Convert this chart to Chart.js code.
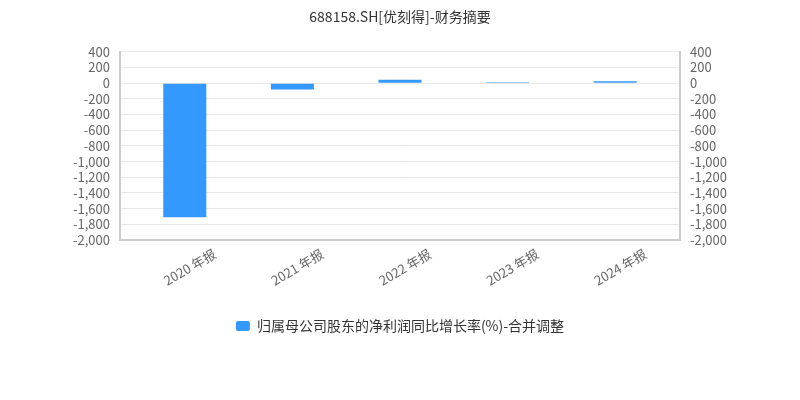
<!DOCTYPE html>
<html>
<head>
<meta charset="utf-8">
<script src="https://cdn.jsdelivr.net/npm/chart.js@4/dist/chart.umd.min.js"></script>
<style>
  html, body { margin: 0; padding: 0; background: #fff; }
</style>
</head>
<body>
<canvas id="finChart" width="800" height="400"></canvas>
<script>
'use strict';

// Chart title
const chartTitle = '688158.SH[优刻得]-财务摘要';
// Report periods on the x axis
const periods = ['2020 年报', '2021 年报', '2022 年报', '2023 年报', '2024 年报'];
// Net profit attributable to parent, YoY growth (%)
const seriesName = '归属母公司股东的净利润同比增长率(%)-合并调整';
const growthValues = [-1710, -82, 42, 12, 25];
// Value axis range
const axisMin = -2000;
const axisMax = 400;
const axisStep = 200;

const fontFamily = '"Microsoft YaHei", "Noto Sans CJK SC", sans-serif';

// Format ticks like 1,000
function formatTick(value) {
  return Number(value).toLocaleString('en-US');
}

// Inset the categories a bit inside the frame
const innerPad = {
  id: 'innerPad',
  afterLayout: function (chart) {
    const x = chart.scales.x;
    x._startPixel += 11;
    x._endPixel -= 11;
    x._length = x._endPixel - x._startPixel;
  }
};

const ctx = document.getElementById('finChart');

new Chart(ctx, {
  type: 'bar',
  data: {
    labels: periods,
    datasets: [{
      label: seriesName,
      data: growthValues,
      backgroundColor: '#3399ff',
      borderWidth: 0,
      barPercentage: 0.4,
      categoryPercentage: 1,
      yAxisID: 'y'
    }]
  },
  options: {
    responsive: false,
    animation: false,
    layout: {
      padding: { left: 0, right: 0, top: 0, bottom: 57 }
    },
    plugins: {
      title: {
        display: true,
        text: chartTitle,
        color: '#333',
        font: { family: fontFamily, size: 14, weight: 'normal' },
        padding: { top: 8, bottom: 27 }
      },
      legend: {
        position: 'bottom',
        labels: {
          color: '#333',
          font: { family: fontFamily, size: 14 },
          boxWidth: 14,
          boxHeight: 10,
          useBorderRadius: true,
          borderRadius: 2,
          padding: 10
        }
      },
      tooltip: { enabled: false }
    },
    scales: {
      x: {
        grid: { display: false, drawTicks: false },
        border: { color: '#ccc', width: 2 },
        ticks: {
          color: '#666',
          font: { family: fontFamily, size: 13 },
          minRotation: 30,
          maxRotation: 30,
          labelOffset: 30,
          padding: 6
        },
        afterFit: function (scale) {
          scale.height = 69;
        }
      },
      y: {
        position: 'left',
        min: axisMin,
        max: axisMax,
        grid: { color: '#e8e8e8', drawTicks: false },
        border: { color: '#ccc', width: 2 },
        ticks: {
          stepSize: axisStep,
          autoSkip: false,
          color: '#666',
          font: { family: fontFamily, size: 13 },
          padding: 10,
          callback: formatTick
        },
        afterFit: function (scale) {
          scale.width = 120;
        }
      },
      y2: {
        position: 'right',
        min: axisMin,
        max: axisMax,
        grid: { drawOnChartArea: false, drawTicks: false },
        border: { color: '#ccc', width: 2 },
        ticks: {
          stepSize: axisStep,
          autoSkip: false,
          color: '#666',
          font: { family: fontFamily, size: 13 },
          padding: 10,
          callback: formatTick
        },
        afterFit: function (scale) {
          scale.width = 120;
        }
      }
    }
  },
  plugins: [innerPad]
});
</script>
</body>
</html>
